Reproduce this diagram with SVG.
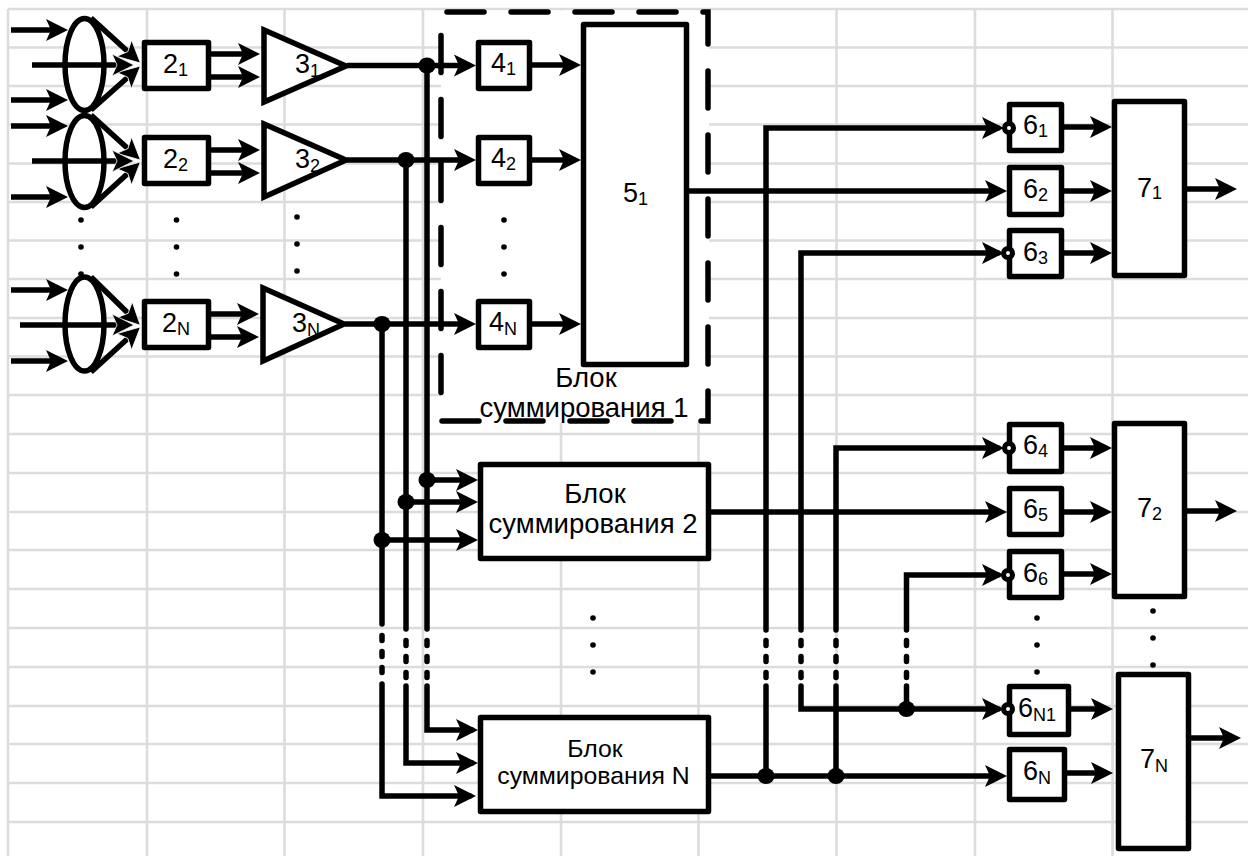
<svg xmlns="http://www.w3.org/2000/svg" width="1248" height="856" viewBox="0 0 1248 856">
<style>
.grid{stroke:#dcdcdc;stroke-width:2.6;fill:none}
.c{stroke:#000;stroke-width:5.500;fill:none}
.r{stroke-linecap:round}
.a{marker-end:url(#ah)}
.w{marker-end:url(#aw)}
.b{stroke:#000;stroke-width:5.500;fill:#fff;stroke-linejoin:round}
.t{stroke:#000;stroke-width:5.500;fill:#fff;stroke-linejoin:miter;stroke-miterlimit:10}
.j{fill:#000}
.bub{stroke:#000;stroke-width:5;fill:#fff}
.dot{fill:#000}
.dash{stroke:#000;stroke-width:5.500;stroke-linecap:round;fill:none;stroke-dasharray:37 27}
.dd{stroke:#000;stroke-width:5.500;stroke-linecap:round;fill:none;stroke-dasharray:5 11}
text{font-family:"Liberation Sans",Arial,sans-serif;font-size:27.500px;fill:#000}
.n{font-size:27px}
.s{font-size:18px}
.m{text-anchor:middle}
.k{font-size:24.800px}
</style>
<defs>
<marker id="ah" markerUnits="userSpaceOnUse" markerWidth="24" markerHeight="24" refX="16" refY="12" orient="auto"><path d="M0 1L22 12L0 23L5 12z" fill="#000"/></marker>
<marker id="aw" markerUnits="userSpaceOnUse" markerWidth="24" markerHeight="24" refX="16" refY="12" orient="auto"><path d="M0 1L22 12L0 23L5 12z" fill="#000" stroke="#fff" stroke-width="0.8"/></marker>
</defs>
<rect width="1248" height="856" fill="#fff"/>
<g id="grid">
<path class="grid" d="M8 9H1248M8 47.500H1248M8 86H1248M8 124.500H1248M8 163.500H1248M8 202H1248M8 240.500H1248M8 279H1248M8 318H1248M8 356.500H1248M8 395H1248M8 434H1248M8 473H1248M8 512H1248M8 550H1248M8 589H1248M8 628H1248M8 667H1248M8 706H1248M8 744H1248M8 783H1248M8 822H1248"/>
<path class="grid" d="M8 9V856M147 9V856M284.500 9V856M423 9V856M561 9V856M698.500 9V856M836.500 9V856M975 9V856M1112.500 9V856"/>
<rect x="441" y="10.500" width="268" height="412" fill="#fff"/>
</g>
<g id="block-1-frame"><path class="dash" d="M447 12H708V421H700"/><path class="dash" d="M671 421H441"/><path class="dash" d="M441 392.500V30"/></g>
<g id="node-1a"><ellipse class="b" cx="84.500" cy="64.500" rx="19.500" ry="46"/></g>
<g id="node-1b"><ellipse class="b" cx="84.500" cy="161.500" rx="19.500" ry="46"/></g>
<g id="node-1n"><ellipse class="b" cx="84.500" cy="324" rx="19.500" ry="47"/></g>
<g id="connectors">
<path class="c a" d="M11 30H62"/><path class="c a" d="M11 100H62"/>
<path class="c a" d="M11 126H62"/><path class="c a" d="M11 197H62"/>
<path class="c a" d="M11 290H62"/><path class="c a" d="M11 361H62"/>
<path class="c w" d="M91 18L136 59"/><path class="c w" d="M91 110L136 70"/><path class="c w" d="M32 65H128"/>
<path class="c w" d="M91 115L136 156"/><path class="c w" d="M91 207L136 166"/><path class="c w" d="M32 161H128"/>
<path class="c w" d="M91 277L136 321"/><path class="c w" d="M91 372L136 331"/><path class="c w" d="M20 325H128"/>
<path class="c a" d="M211 54H254"/><path class="c a" d="M211 77H254"/>
<path class="c a" d="M211 150H254"/><path class="c a" d="M211 173H254"/>
<path class="c a" d="M211 314H253"/><path class="c a" d="M211 337H253"/>
<path class="c a" d="M347 65.500H470"/><path class="c a" d="M347 160H470"/><path class="c a" d="M345 324H470"/>
<path class="c a" d="M532 65H575"/><path class="c a" d="M532 160H575"/><path class="c a" d="M532 324H575"/>
<path class="c r" d="M427 65V629"/><path class="c r" d="M406 160V629"/><path class="c r" d="M382 324V624"/>
<path class="dd" d="M427 640.500V678"/><path class="dd" d="M406 640.500V678"/><path class="dd" d="M382 635.500V673"/>
<path class="c a r" d="M427 686V730H472"/><path class="c a r" d="M406 686V763H472"/><path class="c a r" d="M382 684V796H470"/>
<path class="c a" d="M427 480H472"/><path class="c a" d="M406 502H472"/><path class="c a" d="M382 540H472"/>
<path class="c a" d="M689 191H1001"/><path class="c a" d="M711 512H1001"/><path class="c a" d="M711 776H1001"/>
<path class="c a r" d="M766 630V128H998"/><path class="c a r" d="M801 630V253H998"/><path class="c a r" d="M836 630V448H998"/><path class="c a r" d="M906.500 630V575H998"/>
<path class="dd" d="M766 640.500V678"/><path class="dd" d="M801 640.500V678"/><path class="dd" d="M836 640.500V678"/><path class="dd" d="M906.500 640.500V678"/>
<path class="c r" d="M766 686V776"/><path class="c r" d="M836 686V776"/><path class="c r" d="M906.500 686V709"/>
<path class="c a r" d="M801 686V709H998"/>
<path class="c a" d="M1064 127H1106"/><path class="c a" d="M1064 191H1106"/><path class="c a" d="M1064 253H1106"/>
<path class="c a" d="M1064 448H1106"/><path class="c a" d="M1064 512H1106"/><path class="c a" d="M1064 574H1106"/>
<path class="c a" d="M1071 709H1107"/><path class="c a" d="M1067 773H1107"/>
<path class="c a" d="M1187 189H1231"/><path class="c a" d="M1187 511H1231"/><path class="c a" d="M1191 738H1235"/>
<ellipse class="j" cx="427" cy="65.500" rx="8.500" ry="8"/><ellipse class="j" cx="406" cy="160" rx="8.500" ry="8"/><ellipse class="j" cx="382" cy="324" rx="8.500" ry="8"/>
<ellipse class="j" cx="427" cy="480" rx="8.500" ry="8"/><ellipse class="j" cx="406" cy="502" rx="8.500" ry="8"/><ellipse class="j" cx="382" cy="540" rx="8.500" ry="8"/>
<ellipse class="j" cx="766" cy="776" rx="8.500" ry="8"/><ellipse class="j" cx="836" cy="776" rx="8.500" ry="8"/><ellipse class="j" cx="906.500" cy="709" rx="8.500" ry="8"/>
</g>
<g id="node-2-1"><rect class="b" x="144.500" y="42.500" width="64" height="46"/><text class="n" x="163" y="73">2<tspan class="s" dy="3">1</tspan></text></g>
<g id="node-2-2"><rect class="b" x="144.500" y="137.500" width="64" height="46"/><text class="n" x="163" y="168">2<tspan class="s" dy="3">2</tspan></text></g>
<g id="node-2-n"><rect class="b" x="144.500" y="301.500" width="64" height="46"/><text class="n" x="162" y="332">2<tspan class="s" dy="3">N</tspan></text></g>
<g id="node-3-1"><path class="t" d="M264 30V102L346 66z"/><text class="n" x="295" y="73">3<tspan class="s" dy="4">1</tspan></text></g>
<g id="node-3-2"><path class="t" d="M264 124V197L346 160z"/><text class="n" x="295" y="168">3<tspan class="s" dy="4">2</tspan></text></g>
<g id="node-3-n"><path class="t" d="M263 288V361L344 324z"/><text class="n" x="292" y="332">3<tspan class="s" dy="4">N</tspan></text></g>
<g id="node-4-1"><rect class="b" x="478.500" y="42.500" width="51" height="46"/><text class="n" x="491" y="72">4<tspan class="s" dy="3">1</tspan></text></g>
<g id="node-4-2"><rect class="b" x="478.500" y="137.500" width="51" height="46"/><text class="n" x="491" y="167">4<tspan class="s" dy="3">2</tspan></text></g>
<g id="node-4-n"><rect class="b" x="478.500" y="301.500" width="51" height="46"/><text class="n" x="489" y="331">4<tspan class="s" dy="4">N</tspan></text></g>
<g id="node-5-1"><rect class="b" x="583.500" y="24.500" width="103" height="340"/><text class="n" x="623" y="202">5<tspan class="s" dy="3">1</tspan></text></g>
<g id="label-block-1"><text class="m" x="586" y="387">Блок</text><text class="m" x="584" y="417">суммирования 1</text></g>
<g id="node-block-2"><rect class="b" x="480.500" y="464.500" width="228" height="94"/><text class="m" x="595" y="503">Блок</text><text class="m" x="593" y="533">суммирования 2</text></g>
<g id="node-block-n"><rect class="b" x="480.500" y="717.500" width="228" height="94"/><text class="m k" x="595" y="757">Блок</text><text class="m k" x="593.500" y="784">суммирования N</text></g>
<g id="node-6-1"><rect class="b" x="1009.500" y="104.500" width="52" height="46"/><circle class="bub" cx="1009" cy="128" r="4.500"/><text class="n" x="1023" y="134">6<tspan class="s" dy="3">1</tspan></text></g>
<g id="node-6-2"><rect class="b" x="1009.500" y="167.500" width="52" height="47"/><text class="n" x="1023" y="198">6<tspan class="s" dy="3">2</tspan></text></g>
<g id="node-6-3"><rect class="b" x="1009.500" y="230.500" width="52" height="46"/><circle class="bub" cx="1008" cy="253" r="4.500"/><text class="n" x="1023" y="261">6<tspan class="s" dy="3">3</tspan></text></g>
<g id="node-6-4"><rect class="b" x="1009.500" y="424.500" width="52" height="47"/><circle class="bub" cx="1009" cy="448" r="4.500"/><text class="n" x="1023" y="454">6<tspan class="s" dy="3">4</tspan></text></g>
<g id="node-6-5"><rect class="b" x="1009.500" y="488.500" width="52" height="46"/><text class="n" x="1023" y="518">6<tspan class="s" dy="3">5</tspan></text></g>
<g id="node-6-6"><rect class="b" x="1009.500" y="551.500" width="52" height="46"/><circle class="bub" cx="1008" cy="575" r="4.500"/><text class="n" x="1023" y="582">6<tspan class="s" dy="3">6</tspan></text></g>
<g id="node-6-n1"><rect class="b" x="1009.500" y="686.500" width="59" height="48"/><circle class="bub" cx="1008" cy="709" r="4.500"/><text class="n" x="1018" y="717">6<tspan class="s" dy="4">N1</tspan></text></g>
<g id="node-6-n"><rect class="b" x="1009.500" y="749.500" width="55" height="50"/><text class="n" x="1023" y="780">6<tspan class="s" dy="4">N</tspan></text></g>
<g id="node-7-1"><rect class="b" x="1114.500" y="101.500" width="70" height="174"/><text class="n" x="1137" y="197">7<tspan class="s" dy="2">1</tspan></text></g>
<g id="node-7-2"><rect class="b" x="1114.500" y="423.500" width="70" height="173"/><text class="n" x="1137" y="517">7<tspan class="s" dy="3">2</tspan></text></g>
<g id="node-7-n"><rect class="b" x="1118.500" y="674.500" width="70" height="174"/><text class="n" x="1140" y="768">7<tspan class="s" dy="4">N</tspan></text></g>
<g id="ellipsis">
<circle class="dot" cx="81" cy="220" r="2.800"/><circle class="dot" cx="81" cy="247" r="2.800"/><circle class="dot" cx="81" cy="274" r="2.800"/>
<circle class="dot" cx="176.500" cy="220" r="2.800"/><circle class="dot" cx="176.500" cy="247" r="2.800"/><circle class="dot" cx="176.500" cy="274" r="2.800"/>
<circle class="dot" cx="297" cy="217" r="2.800"/><circle class="dot" cx="297" cy="244" r="2.800"/><circle class="dot" cx="297" cy="271" r="2.800"/>
<circle class="dot" cx="504" cy="220" r="2.800"/><circle class="dot" cx="504" cy="247" r="2.800"/><circle class="dot" cx="504" cy="274" r="2.800"/>
<circle class="dot" cx="593" cy="618" r="2.800"/><circle class="dot" cx="593" cy="645" r="2.800"/><circle class="dot" cx="593" cy="672" r="2.800"/>
<circle class="dot" cx="1037" cy="618" r="2.800"/><circle class="dot" cx="1037" cy="645" r="2.800"/><circle class="dot" cx="1037" cy="672" r="2.800"/>
<circle class="dot" cx="1153" cy="611" r="2.800"/><circle class="dot" cx="1153" cy="638" r="2.800"/><circle class="dot" cx="1153" cy="665" r="2.800"/>
</g>
</svg>
